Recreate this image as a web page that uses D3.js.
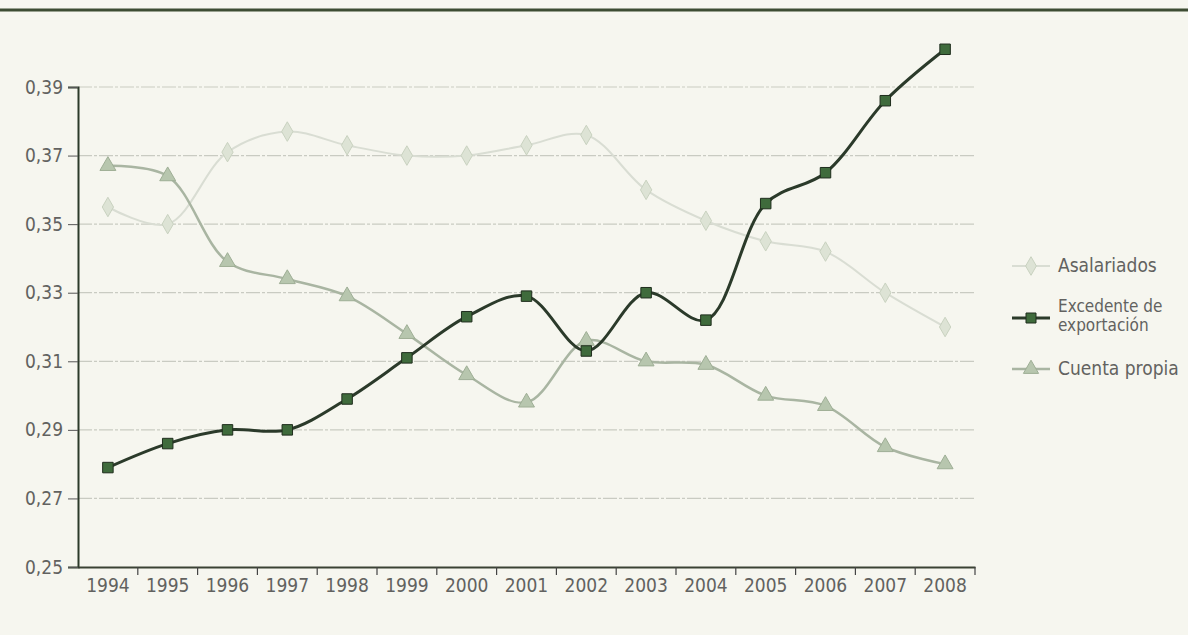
<!DOCTYPE html>
<html>
<head>
<meta charset="UTF-8">
<style>
  body { margin: 0; background: #f6f6ef; }
  svg { display: block; }
  text { font-family: "DejaVu Sans Condensed", "Liberation Sans Narrow", sans-serif; fill: #626260; }
</style>
</head>
<body>
<svg width="1188" height="635"></svg>
<script src="https://d3js.org/d3.v7.min.js"></script>
<script>

const years = ["1994","1995","1996","1997","1998","1999","2000","2001","2002","2003","2004","2005","2006","2007","2008"];
const yTicks = [0.25, 0.27, 0.29, 0.31, 0.33, 0.35, 0.37, 0.39];

const asalariados = [0.355, 0.350, 0.371, 0.377, 0.373, 0.370, 0.370, 0.373, 0.376, 0.360, 0.351, 0.345, 0.342, 0.330, 0.320];
const excedente   = [0.279, 0.286, 0.290, 0.290, 0.299, 0.311, 0.323, 0.329, 0.313, 0.330, 0.322, 0.356, 0.365, 0.386, 0.401];
const cuentaPropia = [0.367, 0.364, 0.339, 0.334, 0.329, 0.318, 0.306, 0.298, 0.316, 0.310, 0.309, 0.300, 0.297, 0.285, 0.280];

const seriesNames = ["Asalariados", "Excedente de exportación", "Cuenta propia"];

let svg = d3.select("svg")
let width = 1188, height = 635
let mLeft = 78, mRight = 975, mTop = 87, mBottom = 567

// top rule
svg.append("line")
  .attr("x1", 0).attr("x2", width).attr("y1", 10).attr("y2", 10)
  .style("stroke", "#3d4c33").style("stroke-width", 3)

let x = d3.scaleBand().domain(years).range([mLeft, mRight])
let y = d3.scaleLinear().domain([0.25, 0.39]).range([mBottom, mTop])

// grid lines
svg.append("g")
  .selectAll("line")
  .data(yTicks.slice(1))
  .enter()
  .append("line")
  .attr("x1", mLeft).attr("x2", mRight)
  .attr("y1", d => y(d)).attr("y2", d => y(d))
  .style("stroke", "#c9cbc2")
  .style("stroke-width", 1.2)
  .style("stroke-dasharray", "14,2,3,2")

// y axis
let yAxis = svg.append("g")
  .attr("transform", "translate(" + mLeft + ",0)")
  .call(d3.axisLeft(y).tickValues(yTicks).tickSize(10).tickPadding(5)
    .tickFormat(d => d3.format(".2f")(d).replace(".", ",")))
yAxis.select(".domain").style("stroke", "#2c3a2a").style("stroke-width", 2)
yAxis.selectAll(".tick line").style("stroke", "#555")
yAxis.selectAll("text").style("font-size", "19px").style("fill", "#626260")

// x axis
let xAxis = svg.append("g")
  .attr("transform", "translate(0," + mBottom + ")")
  .call(d3.axisBottom(x).tickSize(0).tickPadding(12))
xAxis.select(".domain").style("stroke", "#3a4234").style("stroke-width", 2)
xAxis.selectAll("text").style("font-size", "19px").style("fill", "#626260")
// ticks at band boundaries
xAxis.selectAll(".bound")
  .data(years)
  .enter()
  .append("line")
  .attr("x1", d => x(d) + x.bandwidth()).attr("x2", d => x(d) + x.bandwidth())
  .attr("y1", 0).attr("y2", 8)
  .style("stroke", "#444").style("stroke-width", 1.2)

let cx = i => x(years[i]) + x.bandwidth() / 2
let line = d3.line().x((d, i) => cx(i)).y(d => y(d)).curve(d3.curveCatmullRom.alpha(0.5))

let series = [
  { name: seriesNames[0], values: asalariados, stroke: "#d9ddd3", width: 2, fill: "#dde3d5", edge: "#c9d2c0", sym: d3.symbolDiamond, size: 110 },
  { name: seriesNames[2], values: cuentaPropia, stroke: "#a9b5a2", width: 2.5, fill: "#b7c6ae", edge: "#9eae95", sym: d3.symbolTriangle, size: 110 },
  { name: seriesNames[1], values: excedente, stroke: "#2b3a2a", width: 3, fill: "#3f6b3c", edge: "#1f2d1d", sym: d3.symbolSquare, size: 110 }
]

series.forEach(s => {
  svg.append("path")
    .attr("d", line(s.values))
    .style("fill", "none")
    .style("stroke", s.stroke)
    .style("stroke-width", s.width)

  svg.append("g")
    .selectAll("path")
    .data(s.values)
    .enter()
    .append("path")
    .attr("transform", (d, i) => "translate(" + cx(i) + "," + y(d) + ")")
    .attr("d", d3.symbol().type(s.sym).size(s.size))
    .style("fill", s.fill)
    .style("stroke", s.edge)
    .style("stroke-width", 1)
})

// legend
let legendItems = [
  { s: series[0], y: 266, lines: ["Asalariados"] },
  { s: series[2], y: 318, lines: ["Excedente de", "exportación"] },
  { s: series[1], y: 369, lines: ["Cuenta propia"] }
]
let legend = svg.append("g")
legendItems.forEach(it => {
  legend.append("line")
    .attr("x1", 1012).attr("x2", 1050).attr("y1", it.y).attr("y2", it.y)
    .style("stroke", it.s.stroke).style("stroke-width", it.s.width)
  legend.append("path")
    .attr("transform", "translate(1031," + it.y + ")")
    .attr("d", d3.symbol().type(it.s.sym).size(100))
    .style("fill", it.s.fill).style("stroke", it.s.edge)
  let t = legend.append("text")
    .attr("x", 1058)
    .attr("y", it.lines.length > 1 ? it.y - 6 : it.y + 6)
    .style("font-size", it.lines.length > 1 ? "17px" : "19px")
  it.lines.forEach((l, k) => {
    t.append("tspan").attr("x", 1058).attr("dy", k === 0 ? 0 : 19).text(l)
  })
})
</script>
</body>
</html>
